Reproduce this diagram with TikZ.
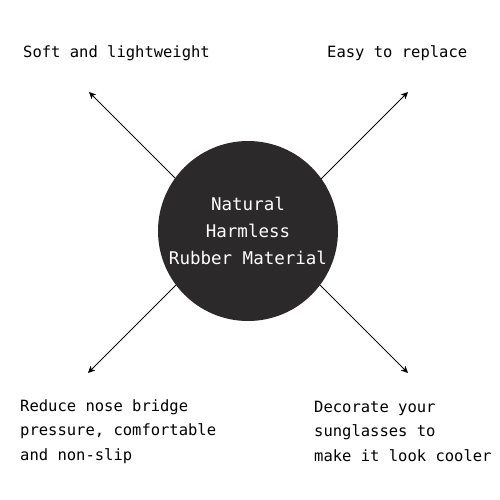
\documentclass[tikz,border=0pt]{standalone}
\usepackage{fontspec}
\newfontfamily\labfont{DejaVu Sans Mono}
\usetikzlibrary{arrows.meta,backgrounds}
\definecolor{discdark}{RGB}{43,41,41}
\tikzset{
  disc/.style={circle, fill=discdark, minimum size=180pt, inner sep=0pt,
    text=white, align=center, font=\labfont\fontsize{17.5}{27}\selectfont},
  lab/.style={anchor=base west, inner sep=0pt, align=left,
    font=\labfont\fontsize{15.5}{24.5}\selectfont},
  ray/.style={line width=0.8pt, -{Stealth[length=7pt,width=6.5pt,inset=2pt]}}
}
\begin{document}
\begin{tikzpicture}[x=1pt,y=-1pt]
\useasboundingbox (0,0) rectangle (500,500);
\node[disc] (c) at (248,231) {Natural\\Harmless\\Rubber Material};
\coordinate (s1) at (200,203);
\coordinate (s2) at (290,210);
\coordinate (s3) at (210,251);
\coordinate (s4) at (290,255);
\coordinate (t1) at (89,92);
\coordinate (t2) at (408,92);
\coordinate (t3) at (88,373);
\coordinate (t4) at (408,373);
\begin{pgfonlayer}{background}
\fill[white] (0,0) rectangle (500,500);
\draw[ray] (s1) -- (t1);
\draw[ray] (s2) -- (t2);
\draw[ray] (s3) -- (t3);
\draw[ray] (s4) -- (t4);
\end{pgfonlayer}
\node[lab] (a) at (23,58) {Soft and lightweight};
\node[lab] (b) at (327,58) {Easy to replace};
\node[lab] (d) at (20,460) {Reduce nose bridge\\pressure, comfortable\\and non-slip};
\node[lab] (e) at (314,461) {Decorate your\\sunglasses to\\make it look cooler};
\end{tikzpicture}
\end{document}
